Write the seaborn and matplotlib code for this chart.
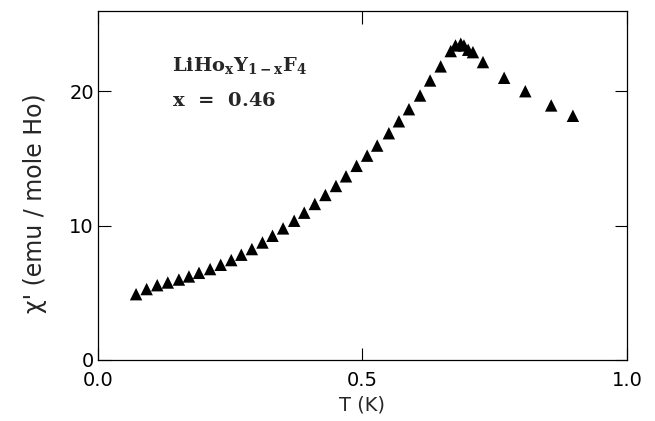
import matplotlib
matplotlib.use("Agg")
import matplotlib.pyplot as plt
import seaborn as sns
import pandas as pd

T = [0.072, 0.092, 0.112, 0.132, 0.153, 0.172, 0.191, 0.212, 0.232, 0.252,
     0.271, 0.291, 0.311, 0.330, 0.350, 0.371, 0.390, 0.410, 0.430, 0.450,
     0.469, 0.489, 0.509, 0.528, 0.550, 0.569, 0.588, 0.609, 0.628, 0.648,
     0.667, 0.676, 0.686, 0.692, 0.700, 0.709, 0.728, 0.768, 0.808, 0.857, 0.898]
chi = [4.90, 5.28, 5.57, 5.77, 5.99, 6.22, 6.49, 6.77, 7.09, 7.44,
       7.84, 8.26, 8.75, 9.25, 9.80, 10.37, 10.97, 11.62, 12.29, 12.96,
       13.68, 14.46, 15.22, 15.97, 16.89, 17.78, 18.68, 19.70, 20.82, 21.87,
       23.01, 23.43, 23.56, 23.43, 23.11, 22.93, 22.19, 21.02, 20.02, 18.96, 18.19]
xticks = [0.0, 0.5, 1.0]
xticklabels = ["0.0", "0.5", "1.0"]
yticks = [0, 10, 20]
yticklabels = ["0", "10", "20"]

df = pd.DataFrame({"T": T, "chi": chi})

sns.set_theme(style="ticks")
plt.rcParams["font.family"] = ["DejaVu Sans"]
plt.rcParams["mathtext.fontset"] = "dejavuserif"

fig = plt.figure(figsize=(6.55, 4.21), dpi=100)
ax = fig.add_axes([0.1496, 0.145, 0.8074, 0.829])

sns.scatterplot(data=df, x="T", y="chi", marker="^", color="black",
                edgecolor="none", s=80, ax=ax, legend=False)

ax.set_xlim(0, 1.0)
ax.set_ylim(0, 26)
ax.set_xticks(xticks)
ax.set_xticklabels(xticklabels)
ax.set_yticks(yticks)
ax.set_yticklabels(yticklabels)
ax.tick_params(direction="in", length=9, width=0.8, top=True, right=True,
               labelsize=14, colors="black", pad=3)
ax.tick_params(axis="x", pad=8)
for sp in ax.spines.values():
    sp.set_linewidth(0.9)
    sp.set_color("black")

ax.set_xlabel("T (K)", fontsize=14, labelpad=4)
ax.set_ylabel("χ' (emu / mole Ho)", fontsize=17)
ax.yaxis.set_label_coords(-0.096, 0.448)

ax.text(0.140, 0.845, r"$\mathbf{LiHo_{x}Y_{1-x}F_4}$",
        transform=ax.transAxes, fontsize=14, va="center", ha="left")
ax.text(0.140, 0.742, r"$\mathbf{x\;\;=\;\;0.46}$",
        transform=ax.transAxes, fontsize=14, va="center", ha="left")

fig.savefig("out.png", dpi=100)
